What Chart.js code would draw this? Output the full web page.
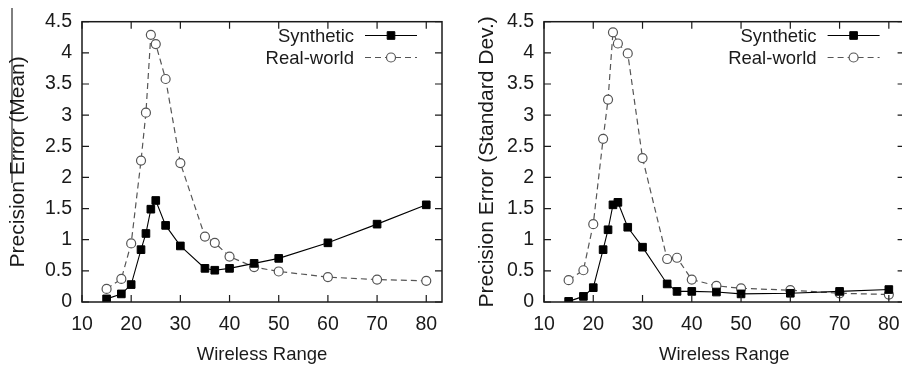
<!DOCTYPE html>
<html>
<head>
<meta charset="utf-8">
<script src="https://cdn.jsdelivr.net/npm/chart.js@4.4.1/dist/chart.umd.min.js"></script>
<style>
  html, body { margin: 0; padding: 0; background: #fff; width: 902px; height: 370px; overflow: hidden; }
  #wrap { position: relative; width: 902px; height: 370px; overflow: hidden; }
  #c1 { position: absolute; left: 0; top: 0; }
  #c2 { position: absolute; left: 451px; top: 0; }
</style>
</head>
<body>
<div id="wrap">
  <canvas id="c1" width="451" height="370"></canvas>
  <canvas id="c2" width="460" height="370"></canvas>
</div>
<script>
// ---- Data ----
const xRange = [15, 18, 20, 22, 23, 24, 25, 27, 30, 35, 37, 40, 45, 50, 60, 70, 80];
const meanSynthetic = [0.05, 0.13, 0.28, 0.84, 1.10, 1.49, 1.63, 1.23, 0.90, 0.54, 0.51, 0.54, 0.62, 0.70, 0.95, 1.25, 1.56];
const meanReal      = [0.21, 0.37, 0.94, 2.27, 3.04, 4.29, 4.14, 3.58, 2.23, 1.05, 0.95, 0.73, 0.56, 0.49, 0.40, 0.36, 0.34];
const sdSynthetic   = [0.01, 0.09, 0.23, 0.84, 1.16, 1.56, 1.60, 1.20, 0.88, 0.29, 0.17, 0.17, 0.16, 0.13, 0.14, 0.17, 0.20];
const sdReal        = [0.35, 0.51, 1.25, 2.62, 3.25, 4.33, 4.15, 3.99, 2.31, 0.69, 0.71, 0.36, 0.26, 0.22, 0.19, 0.14, 0.12];
const xTicks = [10, 20, 30, 40, 50, 60, 70, 80];
const yTicks = [0, 0.5, 1, 1.5, 2, 2.5, 3, 3.5, 4, 4.5];
const yTickLabels = ['0', '0.5', '1', '1.5', '2', '2.5', '3', '3.5', '4', '4.5'];
const seriesNames = ['Synthetic', 'Real-world'];
const xTitle = 'Wireless Range';
const yTitleMean = 'Precision Error (Mean)';
const yTitleSd = 'Precision Error (Standard Dev.)';

const FONT = '"Liberation Sans", Arial, Helvetica, sans-serif';
const INK = '#1a1a1a';
const GREY = '#555555';

function toPoints(ys) { return xRange.map((x, i) => ({ x: x, y: ys[i] })); }

const framePlugin = {
  id: 'frame',
  afterDatasetsDraw(chart) {
    const ctx = chart.ctx;
    const a = chart.chartArea;
    const xs = chart.scales.x, ys = chart.scales.y;
    ctx.save();
    ctx.strokeStyle = INK;
    ctx.lineWidth = 1.5;
    ctx.strokeRect(a.left, a.top, a.right - a.left, a.bottom - a.top);
    ctx.lineWidth = 1.2;
    const tl = 7;
    ctx.beginPath();
    xs.ticks.forEach(t => {
      const px = xs.getPixelForValue(t.value);
      ctx.moveTo(px, a.bottom); ctx.lineTo(px, a.bottom - tl);
      ctx.moveTo(px, a.top); ctx.lineTo(px, a.top + tl);
    });
    ys.ticks.forEach(t => {
      const py = ys.getPixelForValue(t.value);
      ctx.moveTo(a.left, py); ctx.lineTo(a.left + tl, py);
      ctx.moveTo(a.right, py); ctx.lineTo(a.right - tl, py);
    });
    ctx.stroke();

    // legend (gnuplot style: text then sample)
    const textX = a.right - 88;
    const l0 = a.right - 77, l1 = a.right - 25, mx = a.right - 51;
    const rows = [35.5, 57.5];
    ctx.font = '18.5px ' + FONT;
    ctx.textAlign = 'right';
    ctx.textBaseline = 'middle';
    chart.data.datasets.forEach((ds, i) => {
      const y = rows[i];
      ctx.fillStyle = INK;
      ctx.fillText(ds.label, textX, y + 1);
      ctx.save();
      ctx.strokeStyle = ds.borderColor;
      ctx.lineWidth = ds.borderWidth;
      ctx.setLineDash(ds.borderDash || []);
      ctx.beginPath();
      ctx.moveTo(l0, y); ctx.lineTo(l1, y);
      ctx.stroke();
      ctx.restore();
      ctx.save();
      ctx.fillStyle = ds.pointBackgroundColor;
      ctx.strokeStyle = ds.pointBorderColor;
      ctx.lineWidth = ds.pointBorderWidth;
      Chart.helpers.drawPoint(ctx, {
        pointStyle: ds.pointStyle,
        rotation: 0,
        radius: ds.pointRadius,
        borderWidth: ds.pointBorderWidth
      }, mx, y);
      ctx.restore();
    });
    ctx.restore();
  }
};

const artifactPlugin = {
  id: 'artifact',
  afterDraw(chart, args, opts) {
    if (!opts.show) return;
    const ctx = chart.ctx;
    ctx.save();
    ctx.strokeStyle = '#000';
    ctx.lineWidth = 1;
    ctx.beginPath();
    ctx.moveTo(12, 8); ctx.lineTo(12, 183);
    ctx.stroke();
    ctx.restore();
  }
};

function makeChart(id, synth, real, yTitle, cfg) {
  const ctx = document.getElementById(id).getContext('2d');
  return new Chart(ctx, {
    type: 'line',
    data: {
      datasets: [
        {
          label: seriesNames[0],
          data: toPoints(synth),
          borderColor: '#000',
          borderWidth: 1.1,
          pointStyle: 'rect',
          pointRadius: 5.4,
          pointBackgroundColor: '#000',
          pointBorderColor: '#000',
          pointBorderWidth: 1,
          fill: false,
          tension: 0
        },
        {
          label: seriesNames[1],
          data: toPoints(real),
          borderColor: GREY,
          borderWidth: 1.2,
          borderDash: [6, 4],
          pointStyle: 'circle',
          pointRadius: 4.5,
          pointBackgroundColor: '#fff',
          pointBorderColor: GREY,
          pointBorderWidth: 1.2,
          fill: false,
          tension: 0
        }
      ]
    },
    options: {
      responsive: false,
      animation: false,
      devicePixelRatio: 1,
      layout: { padding: { top: 16, right: cfg.padRight, left: 0, bottom: 0 } },
      plugins: {
        legend: { display: false },
        tooltip: { enabled: false },
        artifact: { show: !!cfg.artifact }
      },
      scales: {
        x: {
          type: 'linear',
          min: 10,
          max: 83.2,
          afterBuildTicks: s => { s.ticks = xTicks.map(v => ({ value: v })); },
          afterFit: s => { s.height = 68; },
          grid: { display: false, drawTicks: false, tickLength: 0 },
          border: { display: false },
          ticks: { color: INK, font: { family: FONT, size: 19.5 }, padding: 11, maxRotation: 0, autoSkip: false, callback: v => String(v) },
          title: { display: true, text: xTitle, color: INK, font: { family: FONT, size: 18.5, lineHeight: 1.2 }, padding: { top: 0, bottom: 4 } }
        },
        y: {
          type: 'linear',
          min: 0,
          max: 4.5,
          afterBuildTicks: s => { s.ticks = yTicks.map(v => ({ value: v })); },
          afterFit: s => { s.width = cfg.yWidth; },
          grid: { display: false, drawTicks: false, tickLength: 0 },
          border: { display: false },
          ticks: { color: INK, font: { family: FONT, size: 19.5 }, padding: 10, autoSkip: false,
                   callback: v => yTickLabels[yTicks.indexOf(v)] },
          title: { display: true, text: yTitle, color: INK, font: { family: FONT, size: 21, lineHeight: 1.2 }, padding: { top: cfg.titlePad, bottom: 0 } }
        }
      }
    },
    plugins: [framePlugin, artifactPlugin]
  });
}

makeChart('c1', meanSynthetic, meanReal, yTitleMean, { yWidth: 82, padRight: 9, titlePad: 5.4, artifact: true });
makeChart('c2', sdSynthetic, sdReal, yTitleSd, { yWidth: 93, padRight: 6, titlePad: 23.9, artifact: false });
</script>
</body>
</html>
